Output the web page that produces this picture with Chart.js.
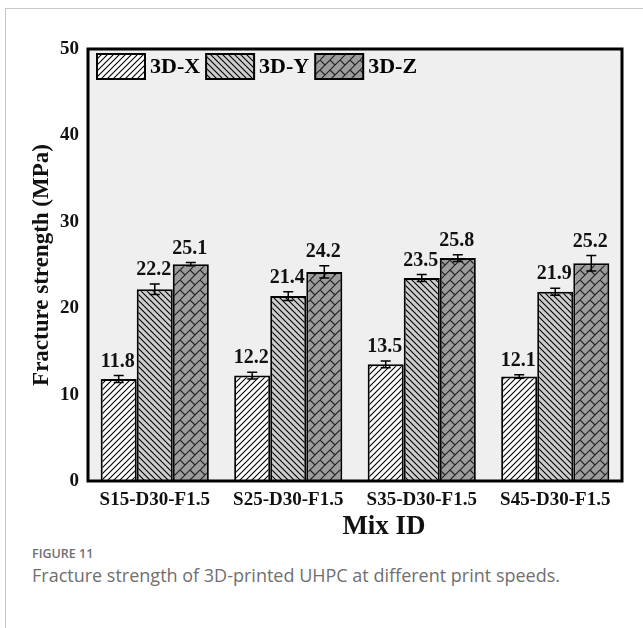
<!DOCTYPE html>
<html>
<head>
<meta charset="utf-8">
<script src="https://cdn.jsdelivr.net/npm/chart.js@4.4.0/dist/chart.umd.min.js"></script>
<style>
  body { margin: 0; background: #fff; width: 643px; height: 628px; overflow: hidden; position: relative; }
  #frame { position: absolute; left: 5px; top: 8px; width: 660px; height: 640px; border-left: 1px solid #c9c9c9; border-top: 1px solid #c9c9c9; }
  #wrap { position: absolute; left: 0; top: 0; width: 643px; height: 540px; }
  #fig { position: absolute; left: 32px; top: 545px; font-family: "Open Sans", sans-serif; font-size: 12.5px; color: #6f6f6f; font-weight: 600; }
  #cap { position: absolute; left: 32px; top: 563px; font-family: "Open Sans", sans-serif; font-size: 18px; color: #6f6f6f; }
</style>
</head>
<body>
<div id="frame"></div>
<div id="wrap"><canvas id="graph"></canvas></div>
<div id="fig">FIGURE 11</div>
<div id="cap">Fracture strength of 3D-printed UHPC at different print speeds.</div>
<script>
// values
const mixes = ["S15-D30-F1.5", "S25-D30-F1.5", "S35-D30-F1.5", "S45-D30-F1.5"];
const seriesNames = ["3D-X", "3D-Y", "3D-Z"];
const strengthX = [11.8, 12.2, 13.5, 12.1];
const strengthY = [22.2, 21.4, 23.5, 21.9];
const strengthZ = [25.1, 24.2, 25.8, 25.2];
const errX = [0.4, 0.4, 0.4, 0.2];
const errY = [0.6, 0.5, 0.4, 0.4];
const errZ = [0.2, 0.7, 0.4, 0.9];

const serif = "'Liberation Serif', 'DejaVu Serif', serif";

function hatch(bg, slash, t) {
  const c = document.createElement("canvas");
  c.width = t; c.height = t;
  const g = c.getContext("2d");
  g.fillStyle = bg; g.fillRect(0, 0, t, t);
  g.strokeStyle = "#000"; g.lineWidth = 1.1;
  g.beginPath();
  if (slash) {
    g.moveTo(-1, t + 1); g.lineTo(t + 1, -1);
    g.moveTo(-1, 1); g.lineTo(1, -1);
    g.moveTo(t - 1, t + 1); g.lineTo(t + 1, t - 1);
  } else {
    g.moveTo(-1, -1); g.lineTo(t + 1, t + 1);
    g.moveTo(t - 1, -1); g.lineTo(t + 1, 1);
    g.moveTo(-1, t - 1); g.lineTo(1, t + 1);
  }
  g.stroke();
  return g.createPattern(c, "repeat");
}

function bricks(bg, t) {
  const c = document.createElement("canvas");
  c.width = t; c.height = t;
  const g = c.getContext("2d");
  g.fillStyle = bg; g.fillRect(0, 0, t, t);
  g.strokeStyle = "#222"; g.lineWidth = 1.1;
  const h = t / 2, q = t / 4;
  g.beginPath();
  g.moveTo(0, h); g.lineTo(h, 0);
  g.moveTo(0, t); g.lineTo(t, 0);
  g.moveTo(h, t); g.lineTo(t, h);
  g.moveTo(0, 0); g.lineTo(q, q);
  g.moveTo(h, h); g.lineTo(h + q, h + q);
  g.moveTo(h, 0); g.lineTo(h + q, q);
  g.moveTo(0, h); g.lineTo(q, h + q);
  g.stroke();
  return g.createPattern(c, "repeat");
}

const fills = [hatch("#ffffff", true, 6), hatch("#cdcdcd", false, 6), bricks("#9c9c9c", 20)];
const values = [strengthX, strengthY, strengthZ];
const errors = [errX, errY, errZ];

const plotBg = {
  id: "plotBg",
  beforeDraw(chart) {
    const { ctx, chartArea: a } = chart;
    ctx.save();
    ctx.fillStyle = "#efefef";
    ctx.fillRect(a.left, a.top, a.right - a.left, a.bottom - a.top);
    ctx.restore();
  },
  afterDraw(chart) {
    const { ctx, chartArea: a } = chart;
    ctx.save();
    ctx.strokeStyle = "#000"; ctx.lineWidth = 3;
    ctx.strokeRect(a.left, a.top, a.right - a.left, a.bottom - a.top);
    // legend inside the plot
    let x = a.left + 9;
    const y = a.top + 5, bw = 48, bh = 25;
    ctx.font = "bold 22px " + serif;
    ctx.textBaseline = "middle";
    seriesNames.forEach((name, i) => {
      ctx.fillStyle = fills[i];
      ctx.fillRect(x, y, bw, bh);
      ctx.lineWidth = 2; ctx.strokeStyle = "#000";
      ctx.strokeRect(x, y, bw, bh);
      ctx.fillStyle = "#000";
      ctx.fillText(name, x + bw + 5, y + bh / 2 + 1);
      x += bw + 5 + ctx.measureText(name).width + 6;
    });
    // x axis title
    ctx.font = "bold 27px " + serif;
    ctx.textAlign = "center";
    ctx.fillStyle = "#111";
    ctx.fillText("Mix ID", 384, 527);
    ctx.restore();
  }
};

const errorBars = {
  id: "errorBars",
  afterDatasetsDraw(chart) {
    const { ctx } = chart;
    const ys = chart.scales.y;
    ctx.save();
    chart.data.datasets.forEach((ds, di) => {
      const meta = chart.getDatasetMeta(di);
      meta.data.forEach((bar, i) => {
        const v = values[di][i], e = errors[di][i];
        const top = ys.getPixelForValue(v + e), bot = ys.getPixelForValue(v - e);
        ctx.strokeStyle = "#000"; ctx.lineWidth = 1.5;
        ctx.beginPath();
        ctx.moveTo(bar.x, top); ctx.lineTo(bar.x, bot);
        ctx.moveTo(bar.x - 5, top); ctx.lineTo(bar.x + 5, top);
        ctx.moveTo(bar.x - 5, bot); ctx.lineTo(bar.x + 5, bot);
        ctx.stroke();
        ctx.fillStyle = "#111";
        ctx.font = "bold 20px " + serif;
        ctx.textAlign = "center";
        ctx.textBaseline = "bottom";
        ctx.fillText(v.toFixed(1), bar.x - 1, top - 4);
      });
    });
    ctx.restore();
  }
};

new Chart(document.getElementById("graph"), {
  type: "bar",
  data: {
    labels: mixes,
    datasets: seriesNames.map((name, i) => ({
      label: name,
      data: values[i],
      backgroundColor: fills[i],
      borderColor: "#000",
      borderWidth: 2,
      borderSkipped: "bottom",
      categoryPercentage: 0.81,
      barPercentage: 1.0
    }))
  },
  options: {
    responsive: true,
    maintainAspectRatio: false,
    animation: false,
    layout: { padding: { left: 28, right: 21, top: 49, bottom: 0 } },
    plugins: { legend: { display: false }, tooltip: { enabled: false } },
    scales: {
      x: {
        grid: { display: false, drawTicks: false },
        border: { display: false },
        ticks: { color: "#111", font: { family: serif, size: 19, weight: "bold" }, padding: 8 },
        afterFit(s) { s.height = 59; }
      },
      y: {
        min: 0, max: 50,
        grid: { display: false, drawTicks: false },
        border: { display: false },
        ticks: { stepSize: 10, color: "#111", font: { family: serif, size: 19, weight: "bold" }, padding: 9 },
        title: { display: true, text: "Fracture strength (MPa)", color: "#111", font: { family: serif, size: 23, weight: "bold" }, padding: { top: 0, bottom: 0 } },
        afterFit(s) { s.width = 60; }
      }
    }
  },
  plugins: [plotBg, errorBars]
});
</script>
</body>
</html>
